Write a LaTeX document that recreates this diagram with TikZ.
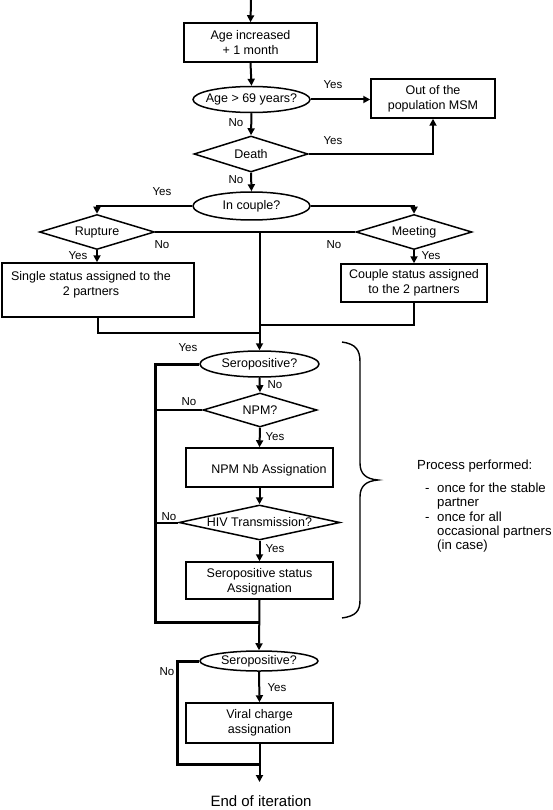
\documentclass[tikz,border=0pt]{standalone}
\usepackage{fontspec}
\setmainfont{Liberation Sans}
\usetikzlibrary{shapes.geometric,arrows.meta}
\begin{document}
\begin{tikzpicture}[x=1pt,y=-1pt,
  every node/.style={font=\fontsize{12.5}{15}\selectfont},
  box/.style={draw,line width=1.5pt,rectangle,inner sep=0pt,align=center},
  oval/.style={draw,line width=1.5pt,ellipse,inner sep=0pt},
  dia/.style={draw,line width=1.5pt,diamond,inner sep=0pt},
  lab/.style={font=\fontsize{11.5}{13}\selectfont,inner sep=0pt},
  conn/.style={line width=2pt},
  arr/.style={line width=2pt,-{Triangle[length=7pt,width=7pt]}},
  loopline/.style={line width=3pt}]
\useasboundingbox (0,0) rectangle (553,810);
% nodes
\coordinate (start) at (251,0);
\node[box,minimum width=133pt,minimum height=39pt] (age) at (250.5,42.5) {Age increased\\+ 1 month};
\node[oval,minimum width=117pt,minimum height=26pt,label={center:Age > 69 years?}] (e69) at (251.5,99.5) {};
\node[box,minimum width=124pt,minimum height=39pt] (out) at (433,98.5) {Out of the\\population MSM};
\node[dia,minimum width=114pt,minimum height=36pt,label={center:Death}] (death) at (251,154) {};
\node[oval,minimum width=117pt,minimum height=28pt,label={center:In couple?}] (couple) at (251.5,206) {};
\node[dia,minimum width=115pt,minimum height=35pt,label={center:Rupture}] (rupture) at (97,232) {};
\node[dia,minimum width=116pt,minimum height=35pt,label={center:Meeting}] (meeting) at (414,232) {};
\node[box,minimum width=192pt,minimum height=54pt,label={[align=center,yshift=5.5pt,xshift=-7pt]center:Single status assigned to the\\2 partners}] (single) at (98,290) {};
\node[box,minimum width=146pt,minimum height=38pt] (cbox) at (414,283) {Couple status assigned\\to the 2 partners};
\coordinate (j1) at (259.5,232);
\coordinate (j2) at (259.5,333);
\coordinate (j3) at (259.5,325);
\node[oval,minimum width=119pt,minimum height=26pt,label={center:Seropositive?}] (sero1) at (259.5,364) {};
\node[dia,minimum width=114pt,minimum height=34pt,label={center:NPM?}] (npm) at (260,410) {};
\node[box,minimum width=147pt,minimum height=39pt,label={[xshift=9.5pt,yshift=-2.5pt]center:NPM Nb Assignation}] (npmnb) at (259.5,467.5) {};
\node[dia,minimum width=161pt,minimum height=35pt,label={center:HIV Transmission?}] (hiv) at (259.5,522.5) {};
\node[box,minimum width=147pt,minimum height=37pt,label={[align=center,yshift=-1.5pt]center:Seropositive status\\Assignation}] (sstat) at (259.5,580.5) {};
\coordinate (lb) at (155,622);
\coordinate (j4) at (259.5,622);
\node[oval,minimum width=118pt,minimum height=20pt,label={center:Seropositive?}] (sero2) at (259,661) {};
\node[box,minimum width=147pt,minimum height=40pt] (viral) at (259.5,723) {Viral charge\\assignation};
\coordinate (lb2) at (177,764);
\coordinate (j5) at (259.5,764);
\coordinate (stop) at (259.5,782);
\node[font=\fontsize{15}{18}\selectfont] (endit) at (261,801) {End of iteration};
% connectors
\draw[arr] (start) -- (age.north);
\draw[arr] (age.south) -- (e69.north);
\draw[arr] (e69.east) -- (e69.east -| out.west);
\draw[arr] (e69.south) -- (death.north);
\draw[arr] (death.east) -| (out.south);
\draw[arr] (death.south) -- (couple.north);
\draw[arr] (couple.west) -| (rupture.north);
\draw[arr] (couple.east) -| (meeting.north);
\draw[arr] (rupture.south) -- (rupture.south |- single.north);
\draw[arr] (meeting.south) -- (cbox.north);
\draw[conn] (rupture.east) -- (j1);
\draw[conn] (meeting.west) -- (j1);
\draw[conn] (single.south) |- (j2);
\draw[conn] (cbox.south) |- (j3);
\draw[arr] (j1) -- (sero1.north);
\draw[arr] (sero1.south) -- (npm.north);
\draw[arr] (npm.south) -- (npmnb.north);
\draw[arr] (npmnb.south) -- (hiv.north);
\draw[arr] (hiv.south) -- (sstat.north);
\draw[arr] (sstat.south) -- (sero2.north);
\draw[loopline] (sero1.west) -| (lb) -- (j4);
\draw[conn] (npm.west) -- (npm.west -| lb);
\draw[conn] (hiv.west) -- (hiv.west -| lb);
\draw[arr] (sero2.south) -- (viral.north);
\draw[loopline] (sero2.west) -| (lb2) -- (j5);
\draw[arr] (viral.south) -- (stop);
% labels
\node[lab] (l1) at (333,85) {Yes};
\node[lab] (l2) at (236,123) {No};
\node[lab] (l3) at (333,141) {Yes};
\node[lab] (l4) at (236,180) {No};
\node[lab] (l5) at (162,192) {Yes};
\node[lab] (l6) at (162,245) {No};
\node[lab] (l7) at (78,256) {Yes};
\node[lab] (l8) at (334,245) {No};
\node[lab] (l9) at (431,256) {Yes};
\node[lab] (l10) at (188,348) {Yes};
\node[lab] (l11) at (275,385) {No};
\node[lab] (l12) at (189,402) {No};
\node[lab] (l13) at (275,437) {Yes};
\node[lab] (l14) at (169,517) {No};
\node[lab] (l15) at (275,549) {Yes};
\node[lab] (l16) at (167,672) {No};
\node[lab] (l17) at (277,688) {Yes};
% brace
\draw[line width=1.4pt] (342,342) .. controls (356,344) and (360,350) .. (360,362) -- (360,463)
  .. controls (360,474) and (366,479) .. (378,480) .. controls (366,481) and (360,486) .. (360,497)
  -- (360,600) .. controls (360,611) and (356,616) .. (342,618);
\node[anchor=north west,inner sep=0pt,font=\fontsize{13.2}{14.3}\selectfont] (proc) at (417,459) {%
\begin{tabular}{@{}p{20pt}@{}l@{}}
\multicolumn{2}{@{}l@{}}{Process performed:}\\[9pt]
\hspace*{8pt}- & once for the stable\\
 & partner\\
\hspace*{8pt}- & once for all\\
 & occasional partners\\
 & (in case)
\end{tabular}};
\end{tikzpicture}
\end{document}
